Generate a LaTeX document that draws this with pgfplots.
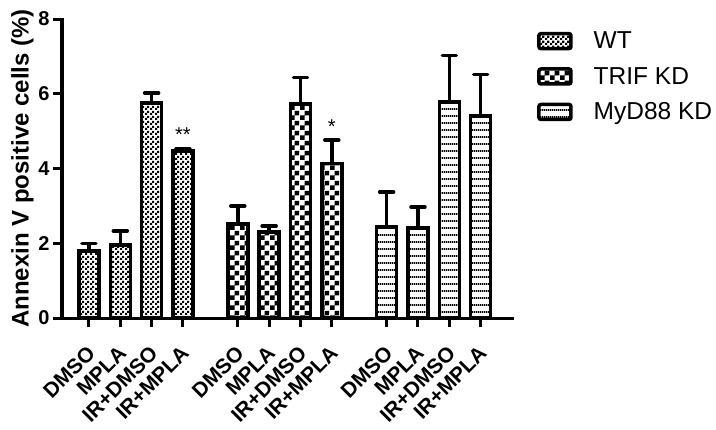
\documentclass[border=0pt]{standalone}
\usepackage{fontspec}
\setmainfont{Liberation Sans}
\usepackage{pgfplots}
\usepackage{pgfplotstable}
\pgfplotsset{compat=1.18}
\usetikzlibrary{patterns}

\pgfdeclarepatternformonly{finecheck}{\pgfpointorigin}{\pgfqpoint{5bp}{5bp}}{\pgfqpoint{5bp}{5bp}}{%
  \pgfpathrectangle{\pgfpointorigin}{\pgfqpoint{2.5bp}{2.5bp}}%
  \pgfpathrectangle{\pgfqpoint{2.5bp}{2.5bp}}{\pgfqpoint{2.5bp}{2.5bp}}%
  \pgfusepath{fill}}
\pgfdeclarepatternformonly{coarsecheck}{\pgfpointorigin}{\pgfqpoint{10bp}{10bp}}{\pgfqpoint{10bp}{10bp}}{%
  \pgfpathrectangle{\pgfpointorigin}{\pgfqpoint{5bp}{5bp}}%
  \pgfpathrectangle{\pgfqpoint{5bp}{5bp}}{\pgfqpoint{5bp}{5bp}}%
  \pgfusepath{fill}}
\pgfdeclarepatternformonly{hlines}{\pgfpointorigin}{\pgfqpoint{2bp}{6.5bp}}{\pgfqpoint{2bp}{6.5bp}}{%
  \pgfpathrectangle{\pgfpointorigin}{\pgfqpoint{2bp}{2bp}}%
  \pgfusepath{fill}}

\pgfplotstableread{
x y e
0 1.79 0.21
1 1.95 0.38
2 5.75 0.27
3 4.47 0.05
}\wt
\pgfplotstableread{
x y e
4.75 2.51 0.49
5.75 2.30 0.16
6.75 5.72 0.72
7.75 4.14 0.62
}\trif
\pgfplotstableread{
x y e
9.5 2.43 0.94
10.5 2.41 0.56
11.5 5.78 1.25
12.5 5.40 1.12
}\myd

\begin{document}
\begin{tikzpicture}
\useasboundingbox (-62bp,-112bp) rectangle (654bp,318bp);
\begin{axis}[
  at={(0,0)}, anchor=south west,
  scale only axis, width=450bp, height=299bp,
  ybar, bar width=20bp, bar shift=0pt,
  xmin=-0.86, xmax=13.5, ymin=0, ymax=8,
  axis lines*=left,
  axis line style={line width=3bp, line cap=rect},
  every tick/.style={black, line width=3bp},
  tick align=outside, major tick length=9bp,
  ytick={0,2,4,6,8},
  xtick={0,1,2,3,4.75,5.75,6.75,7.75,9.5,10.5,11.5,12.5},
  xticklabels={DMSO,MPLA,IR+DMSO,IR+MPLA,DMSO,MPLA,IR+DMSO,IR+MPLA,DMSO,MPLA,IR+DMSO,IR+MPLA},
  x tick label style={font=\fontsize{21bp}{23bp}\selectfont\bfseries, xshift=-3bp, yshift=-16bp, rotate=45, anchor=north east, inner sep=1bp},
  y tick label style={font=\fontsize{20bp}{22bp}\selectfont\bfseries},
  /pgf/number format/assume math mode=true,
  ylabel={Annexin V positive cells (\%)},
  ylabel style={font=\fontsize{24bp}{26bp}\selectfont\bfseries, yshift=-2bp},
  legend style={at={(1.0556,0.964)}, anchor=north west, draw=none, fill=none,
    font=\fontsize{24.5bp}{27bp}\selectfont, row sep=13bp, inner sep=0pt},
  legend cell align=left,
  legend image code/.code={\draw[#1, rounded corners=2bp] (0bp,-7.5bp) rectangle (32bp,7.5bp); \path (51bp,0bp);},
  every axis plot/.append style={draw=black, line width=3.5bp},
  error bars/y dir=plus, error bars/y explicit,
  error bars/error bar style={line width=3.5bp, black},
  error bars/error mark options={rotate=90, line width=3.5bp, black, mark size=7bp, line cap=round},
]
\addplot[pattern=finecheck] table[x=x, y=y, y error=e]{\wt};
\addplot[pattern=coarsecheck] table[x=x, y=y, y error=e]{\trif};
\addplot[pattern=hlines] table[x=x, y=y, y error=e]{\myd};
\legend{WT, TRIF KD, MyD88 KD}
\node[font=\fontsize{20bp}{22bp}\selectfont] at (axis cs:3,4.92) {**};
\node[font=\fontsize{20bp}{22bp}\selectfont] at (axis cs:7.75,5.13) {*};
\end{axis}
\end{tikzpicture}
\end{document}
